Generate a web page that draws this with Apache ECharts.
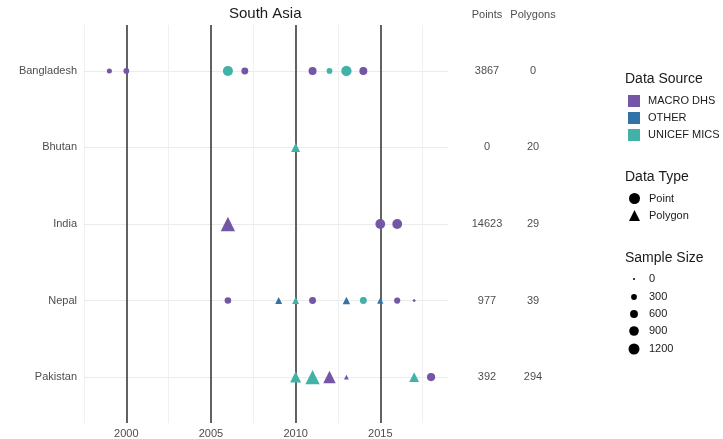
<!DOCTYPE html>
<html>
<head>
<meta charset="utf-8">
<script src="https://cdn.jsdelivr.net/npm/echarts@6/dist/echarts.min.js"></script>
<style>
  html, body { margin: 0; padding: 0; background: #fff; }
  #chart { width: 723px; height: 439px; }
</style>
</head>
<body>
<div id="chart"></div>
<script>
// Countries from top to bottom of the panel
const countries = ['Bangladesh', 'Bhutan', 'India', 'Nepal', 'Pakistan'];
// Totals shown in the right-hand table
const pointTotals = [3867, 0, 14623, 977, 392];
const polygonTotals = [0, 20, 29, 39, 294];
const tableColumns = ['Points', 'Polygons'];

// One entry per survey
const surveyCountry = [
  'Bangladesh', 'Bangladesh', 'Bangladesh', 'Bangladesh', 'Bangladesh', 'Bangladesh', 'Bangladesh', 'Bangladesh',
  'Bhutan',
  'India', 'India', 'India',
  'Nepal', 'Nepal', 'Nepal', 'Nepal', 'Nepal', 'Nepal', 'Nepal', 'Nepal', 'Nepal',
  'Pakistan', 'Pakistan', 'Pakistan', 'Pakistan', 'Pakistan', 'Pakistan'
];
const surveyYear = [
  1999, 2000, 2006, 2007, 2011, 2012, 2013, 2014,
  2010,
  2006, 2015, 2016,
  2006, 2009, 2010, 2011, 2013, 2014, 2015, 2016, 2017,
  2010, 2011, 2012, 2013, 2017, 2018
];
const surveySource = [
  'MACRO DHS', 'MACRO DHS', 'UNICEF MICS', 'MACRO DHS', 'MACRO DHS', 'UNICEF MICS', 'UNICEF MICS', 'MACRO DHS',
  'UNICEF MICS',
  'MACRO DHS', 'MACRO DHS', 'MACRO DHS',
  'MACRO DHS', 'OTHER', 'UNICEF MICS', 'MACRO DHS', 'OTHER', 'UNICEF MICS', 'OTHER', 'MACRO DHS', 'MACRO DHS',
  'UNICEF MICS', 'UNICEF MICS', 'MACRO DHS', 'MACRO DHS', 'UNICEF MICS', 'MACRO DHS'
];
const surveyType = [
  'Point', 'Point', 'Point', 'Point', 'Point', 'Point', 'Point', 'Point',
  'Polygon',
  'Polygon', 'Point', 'Point',
  'Point', 'Polygon', 'Polygon', 'Point', 'Polygon', 'Point', 'Polygon', 'Point', 'Point',
  'Polygon', 'Polygon', 'Polygon', 'Polygon', 'Polygon', 'Point'
];
const surveySize = [
  220, 300, 1000, 450, 620, 300, 1050, 620,
  450,
  1200, 950, 950,
  400, 250, 250, 450, 300, 450, 200, 350, 40,
  700, 1200, 900, 100, 550, 650
];

const sources = ['MACRO DHS', 'OTHER', 'UNICEF MICS'];
const sourceColors = ['#7356a5', '#3173a6', '#42b1a8'];
const dataTypes = ['Point', 'Polygon'];
const sizeBreaks = [0, 300, 600, 900, 1200];
const yearLines = [2000, 2005, 2010, 2015];

// Country position on the value axis: top row gets the highest value
function rowOf(country) { return countries.length - 1 - countries.indexOf(country); }
// Marker diameter with area growing linearly in sample size
function sizeFor(v) { return Math.sqrt(4 + 117 * v / 1200); }

const FONT = 'Liberation Sans, Arial, sans-serif';
const seriesList = [];

// Horizontal country guides
seriesList.push({
  type: 'line', xAxisIndex: 0, yAxisIndex: 0, data: [], silent: true, z: 1,
  markLine: {
    symbol: 'none', silent: true, animation: false, label: { show: false },
    lineStyle: { color: '#ebebeb', width: 1, type: 'solid' },
    data: countries.map(c => ({ yAxis: rowOf(c) }))
  }
});
// Dark year reference lines
seriesList.push({
  type: 'line', xAxisIndex: 0, yAxisIndex: 0, data: [], silent: true, z: 2,
  markLine: {
    symbol: 'none', silent: true, animation: false, label: { show: false },
    lineStyle: { color: '#3c3c3c', width: 1.6, type: 'solid' },
    data: yearLines.map(y => ({ xAxis: y }))
  }
});

// Surveys, one series per data source
sources.forEach((src, si) => {
  const data = [];
  for (let i = 0; i < surveyYear.length; i++) {
    if (surveySource[i] !== src) continue;
    const tri = surveyType[i] === 'Polygon';
    const d = sizeFor(surveySize[i]);
    data.push({
      value: [surveyYear[i], rowOf(surveyCountry[i]), surveySize[i]],
      symbol: tri ? 'triangle' : 'circle',
      symbolSize: tri ? d * 1.3 : d
    });
  }
  seriesList.push({
    name: src, type: 'scatter', xAxisIndex: 0, yAxisIndex: 0, z: 5,
    itemStyle: { color: sourceColors[si], opacity: 1 },
    data: data
  });
});

// Empty series that only feed the data type legend
dataTypes.forEach(t => {
  seriesList.push({
    name: t, type: 'scatter', xAxisIndex: 0, yAxisIndex: 0, data: [],
    symbol: t === 'Point' ? 'circle' : 'triangle',
    itemStyle: { color: '#000' }
  });
});

// Totals table
const tableData = [];
countries.forEach((c, ci) => {
  tableData.push({ value: ['Points', rowOf(c), pointTotals[ci]] });
  tableData.push({ value: ['Polygons', rowOf(c), polygonTotals[ci]] });
});
seriesList.push({
  type: 'scatter', xAxisIndex: 1, yAxisIndex: 1, silent: true, z: 6,
  symbolSize: 1, itemStyle: { color: 'rgba(0,0,0,0)' },
  label: {
    show: true, position: 'inside', color: '#1a1a1a', fontSize: 11, fontFamily: FONT,
    formatter: p => String(p.value[2])
  },
  labelLayout: { hideOverlap: false },
  data: tableData
});

// Legend titles and sample size keys
const graphics = [];
const legendTitle = (text, y) => ({
  type: 'text', left: 625, top: y - 8,
  style: { text: text, fontSize: 14, fill: '#1a1a1a', fontFamily: FONT }
});
graphics.push(legendTitle('Data Source', 80));
graphics.push(legendTitle('Data Type', 178));
graphics.push(legendTitle('Sample Size', 259));
const sizeRows = [279, 297, 314, 331, 349];
sizeBreaks.forEach((v, i) => {
  graphics.push({
    type: 'circle', shape: { cx: 634, cy: sizeRows[i], r: sizeFor(v) / 2 },
    style: { fill: '#000' }, silent: true
  });
  graphics.push({
    type: 'text', x: 649, y: sizeRows[i],
    style: { text: String(v), fontSize: 11, fill: '#1a1a1a', verticalAlign: 'middle', fontFamily: FONT }
  });
});

const chart = echarts.init(document.getElementById('chart'), null, { renderer: 'canvas' });
chart.setOption({
  animation: false,
  backgroundColor: '#ffffff',
  textStyle: { fontFamily: FONT },
  title: {
    text: 'South Asia', left: 229, top: 6, padding: 0,
    textStyle: { fontSize: 15, fontWeight: 'normal', color: '#1a1a1a' }
  },
  grid: [
    { left: 84, right: 275, top: 25, bottom: 16 },
    { left: 464, width: 92, top: 25, bottom: 16 }
  ],
  xAxis: [
    {
      gridIndex: 0, type: 'value', min: 1997.5, max: 2019, interval: 2.5,
      axisLine: { show: false }, axisTick: { show: false },
      axisLabel: {
        color: '#4d4d4d', fontSize: 11, margin: 5, showMinLabel: true, showMaxLabel: false,
        formatter: v => (v % 5 === 0 ? String(v) : '')
      },
      splitLine: { show: true, showMaxLine: false, lineStyle: { color: '#f0f0f0', width: 1 } }
    },
    {
      gridIndex: 1, type: 'category', data: tableColumns, position: 'top',
      axisLine: { show: false }, axisTick: { show: false },
      axisLabel: { color: '#4d4d4d', fontSize: 11, margin: 5, interval: 0, hideOverlap: false },
      splitLine: { show: false }
    }
  ],
  yAxis: [
    {
      gridIndex: 0, type: 'value', min: -0.6, max: 4.6,
      axisLine: { show: false }, axisTick: { show: false },
      splitLine: { show: false },
      axisLabel: {
        color: '#4d4d4d', fontSize: 11, margin: 7,
        customValues: countries.map(c => rowOf(c)),
        formatter: v => countries[countries.length - 1 - Math.round(v)]
      }
    },
    {
      gridIndex: 1, type: 'value', min: -0.6, max: 4.6,
      axisLine: { show: false }, axisTick: { show: false },
      axisLabel: { show: false }, splitLine: { show: false }
    }
  ],
  legend: [
    {
      data: sources.map(s => ({ name: s, icon: 'rect' })),
      orient: 'vertical', left: 628, top: 95, padding: 0,
      itemWidth: 12, itemHeight: 12, itemGap: 5,
      selectedMode: false,
      textStyle: { fontSize: 11, color: '#1a1a1a', padding: [0, 0, 0, 3] }
    },
    {
      data: [
        { name: 'Point', icon: 'circle', itemStyle: { color: '#000', opacity: 1 } },
        { name: 'Polygon', icon: 'triangle', itemStyle: { color: '#000', opacity: 1 } }
      ],
      orient: 'vertical', left: 629, top: 193, padding: 0,
      itemWidth: 11, itemHeight: 11, itemGap: 6,
      selectedMode: false,
      textStyle: { fontSize: 11, color: '#1a1a1a', padding: [0, 0, 0, 4] }
    }
  ],
  graphic: graphics,
  series: seriesList
});
</script>
</body>
</html>
